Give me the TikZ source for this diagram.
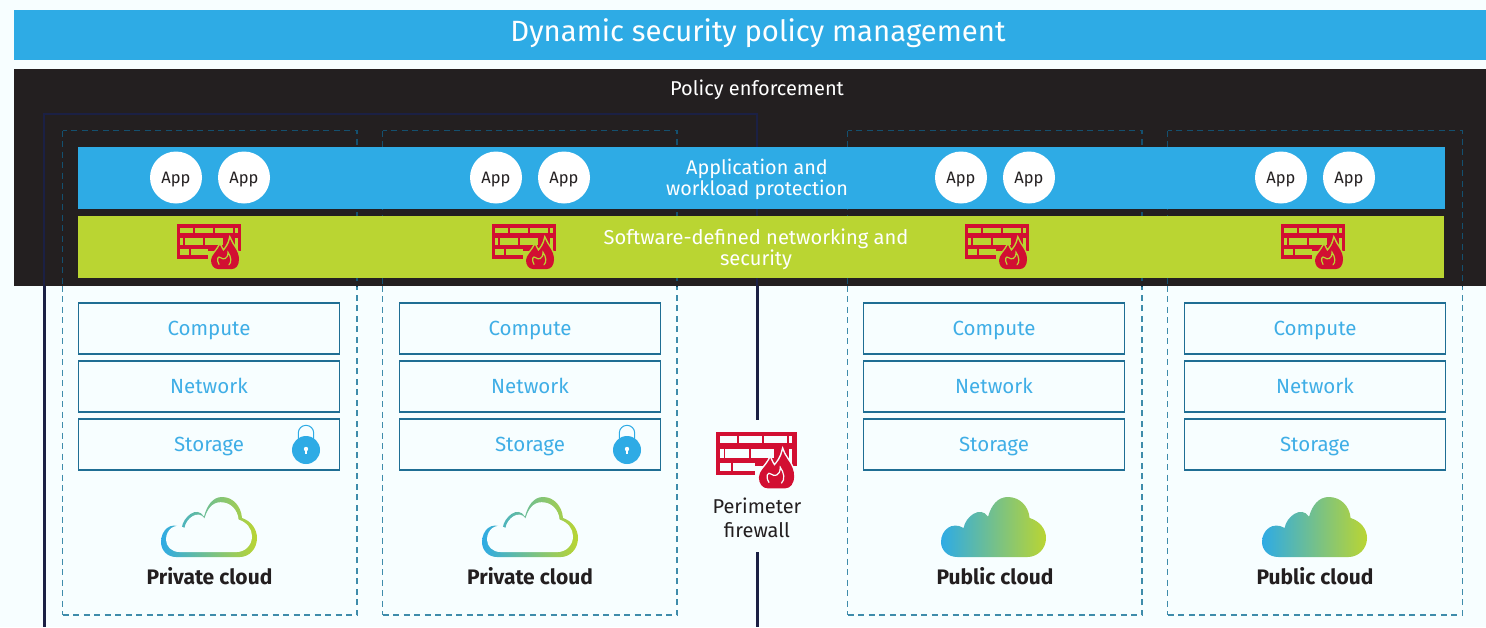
\documentclass[tikz,border=0pt]{standalone}
\usepackage{fontspec}
\setmainfont{Fira Sans}
\definecolor{pagebg}{HTML}{F7FEFF}
\definecolor{skyblue}{HTML}{2EABE5}
\definecolor{lime}{HTML}{BAD532}
\definecolor{cloudmid}{HTML}{8FC38A}
\definecolor{ink}{HTML}{231F20}
\definecolor{navy}{HTML}{1B2044}
\definecolor{dashlight}{HTML}{3F8CAB}
\definecolor{dashdark}{HTML}{14506F}
\definecolor{compline}{HTML}{1F6E94}
\definecolor{comptext}{HTML}{3FAEE6}
\definecolor{firered}{HTML}{D20F32}
\newcommand{\fs}[1]{\fontsize{#1}{#1}\selectfont}
\tikzset{
  x=1pt,y=-1pt,
  dashbox/.style={draw=dashlight,line width=1.3pt,dash pattern=on 6pt off 4.5pt,minimum width=294.5pt,minimum height=484.5pt,inner sep=0pt,outer sep=0pt},
  dashdarkline/.style={draw=dashdark,line width=1.3pt,dash pattern=on 6pt off 4.5pt},
  comp/.style={draw=compline,line width=1.4pt,minimum width=261pt,minimum height=51pt,inner sep=0pt,text=comptext,font=\fs{20.5},text height=16pt,text depth=2pt},
  appc/.style={circle,fill=white,minimum size=52pt,inner sep=0pt,text=ink,font=\fs{16.5},text height=13pt,text depth=1pt},
  bandtext/.style={text=white,align=center,inner sep=0pt},
  cloudlabel/.style={text=ink,font=\fs{21}\bfseries,inner sep=0pt},
  pics/fw/.style={code={
    \fill[firered] (0,0) rectangle (64,34.5);
    \foreach \a/\b/\c/\d in {3.3/3.3/16.3/8.5,18/3.3/36.3/8.5,38/3.3/56.3/8.5,58/3.3/60.5/8.5,
      3.3/13.5/6/20.5,7.5/13.5/26.3/20.5,28/13.5/46/20.5,3.3/24.5/12/31,13.7/24.5/31.3/31,58/13.5/60.5/26}
      {\fill[#1] (\a,\b) rectangle (\c,\d);}
    \fill[#1] (31,27) rectangle (65,35);
    \path[draw=#1,line width=3pt,fill=#1] (41,44.7) .. controls (37,44.7) and (34,41) .. (34,36) .. controls (34,31) and (40,27) .. (43,20.7) .. controls (44,23) and (45,25) .. (46.3,27) .. controls (49,24) and (52,20) .. (53,14.7) .. controls (55,21) and (62,26) .. (62,35) .. controls (62,41) and (59,44.7) .. (55,44.7) -- cycle;
    \fill[firered] (41,44.7) .. controls (37,44.7) and (34,41) .. (34,36) .. controls (34,31) and (40,27) .. (43,20.7) .. controls (44,23) and (45,25) .. (46.3,27) .. controls (49,24) and (52,20) .. (53,14.7) .. controls (55,21) and (62,26) .. (62,35) .. controls (62,41) and (59,44.7) .. (55,44.7) -- cycle;
    \draw[#1,line width=1.2pt,line cap=round] (42,40) .. controls (39,35) and (41,31) .. (44,33.5) .. controls (46,35.5) and (51,35) .. (51,28) .. controls (54,32) and (55,38) .. (52,40.5);
  }},
  pics/cloudshape/.style={code={
    \path[#1] (15,60) .. controls (6,60) and (0,53) .. (0,45) .. controls (0,33) and (10,24) .. (20.7,31) .. controls (22,20) and (36,8) .. (43,19.7) .. controls (46,8) and (52,0) .. (61,0) .. controls (72,0) and (80,9) .. (81,21) .. controls (90,24) and (96,32) .. (96,41) .. controls (96,52) and (88,60) .. (79,60) -- cycle;
  }},
  cloudgrad/.style={left color=skyblue,middle color=cloudmid,right color=lime},
  pics/lockicon/.style={code={
    \draw[skyblue,line width=1pt] (-7.7,-8) -- (-7.7,-17) arc[start angle=180,end angle=360,radius=7.7] -- (7.7,-8);
    \fill[skyblue] (0,0) circle[radius=14];
    \fill[white] (0,-1) circle[radius=2.2];
    \fill[white] (-.9,-1) rectangle (.9,3.5);
  }},
}
\begin{document}
\begin{tikzpicture}
\useasboundingbox (0,0) rectangle (1486,627);
\fill[pagebg] (0,0) rectangle (1486,627);
% title
\node[fill=skyblue,minimum width=1472pt,minimum height=50pt,inner sep=0pt] (title) at (750,35) {};
\node[text=white,font=\fs{29.3},inner sep=0pt] (titletext) at (758,33) {Dynamic security policy management};
% outer boundary corners
\coordinate (tl) at (44,114);
\coordinate (tr) at (757,114);
\coordinate (bl) at (44,627);
\coordinate (br) at (757,627);
\coordinate (ml) at (44,286);
\coordinate (mr) at (757,286);
% dashed columns
\node[dashbox] (d1) at (209.75,372.75) {};
\node[dashbox] (d2) at (529.75,372.75) {};
\node[dashbox] (d3) at (994.75,372.75) {};
\node[dashbox] (d4) at (1315,372.75) {};
% black enforcement layer
\fill[ink] (14,69) rectangle (1486,286);
\begin{scope}
\clip (14,69) rectangle (1486,286);
\draw[dashdarkline] (d1.north west) rectangle (d1.south east);
\draw[dashdarkline] (d2.north west) rectangle (d2.south east);
\draw[dashdarkline] (d3.north west) rectangle (d3.south east);
\draw[dashdarkline] (d4.north west) rectangle (d4.south east);
\end{scope}
\draw[navy,line width=1.5pt] (ml) -- (tl) -- (tr) -- (mr);
\draw[navy,line width=3pt] (ml) -- (bl);
\node[text=white,font=\fs{20},inner sep=0pt] (policy) at (757,90) {Policy enforcement};
% bands
\node[fill=skyblue,minimum width=1367pt,minimum height=62pt,inner sep=0pt] (bandA) at (761.5,178) {};
\node[fill=lime,minimum width=1366pt,minimum height=62pt,inner sep=0pt] (bandB) at (761,247) {};
\node[bandtext,font=\fontsize{19.8}{21}\selectfont] (bandAt) at (757,179) {Application and\\workload protection};
\node[bandtext,font=\fontsize{20.1}{21}\selectfont] (bandBt) at (756,249) {Software-defined networking and\\security};
% apps
\foreach \n/\x in {a1/176,a2/244,a3/496,a4/564,a5/961,a6/1029,a7/1281,a8/1349}
  {\node[appc] (\n) at (\x,177.5) {App};}
% band firewalls
\foreach \x in {177,492,965,1281}
  {\pic at (\x,224.3) {fw=lime};}
% compute stacks
\foreach \c/\x in {p/209,q/530,r/994,s/1315}{
  \node[comp] (\c c) at (\x,328.5) {Compute};
  \node[comp] (\c n) at (\x,386.5) {Network};
  \node[comp] (\c s) at (\x,444.5) {Storage};
}
% locks
\pic at (306,450) {lockicon};
\pic at (627,450) {lockicon};
% clouds
\foreach \x in {161,482}{
  \pic at (\x,497) {cloudshape={shade,cloudgrad}};
  \pic[xscale=.896,yscale=.83] at (\x+5,502.2) {cloudshape={fill=pagebg}};
}
\foreach \x in {941,1262}{
  \pic[xscale=1.094] at (\x,497) {cloudshape={shade,cloudgrad}};
}
\node[cloudlabel] (l1) at (209.5,576) {Private cloud};
\node[cloudlabel] (l2) at (530,576) {Private cloud};
\node[cloudlabel] (l3) at (995,576) {Public cloud};
\node[cloudlabel] (l4) at (1315,576) {Public cloud};
% perimeter
\pic[scale=1.26] at (716,432) {fw=pagebg};
\node[text=ink,align=center,font=\fontsize{20}{24}\selectfont,inner sep=0pt] (perim) at (757,518) {Perimeter\\firewall};
\coordinate (gapTop) at (757,420);
\coordinate (gapBot) at (757,552);
\draw[navy,line width=3pt] (mr) -- (gapTop);
\draw[navy,line width=3pt] (gapBot) -- (br);
\end{tikzpicture}
\end{document}
